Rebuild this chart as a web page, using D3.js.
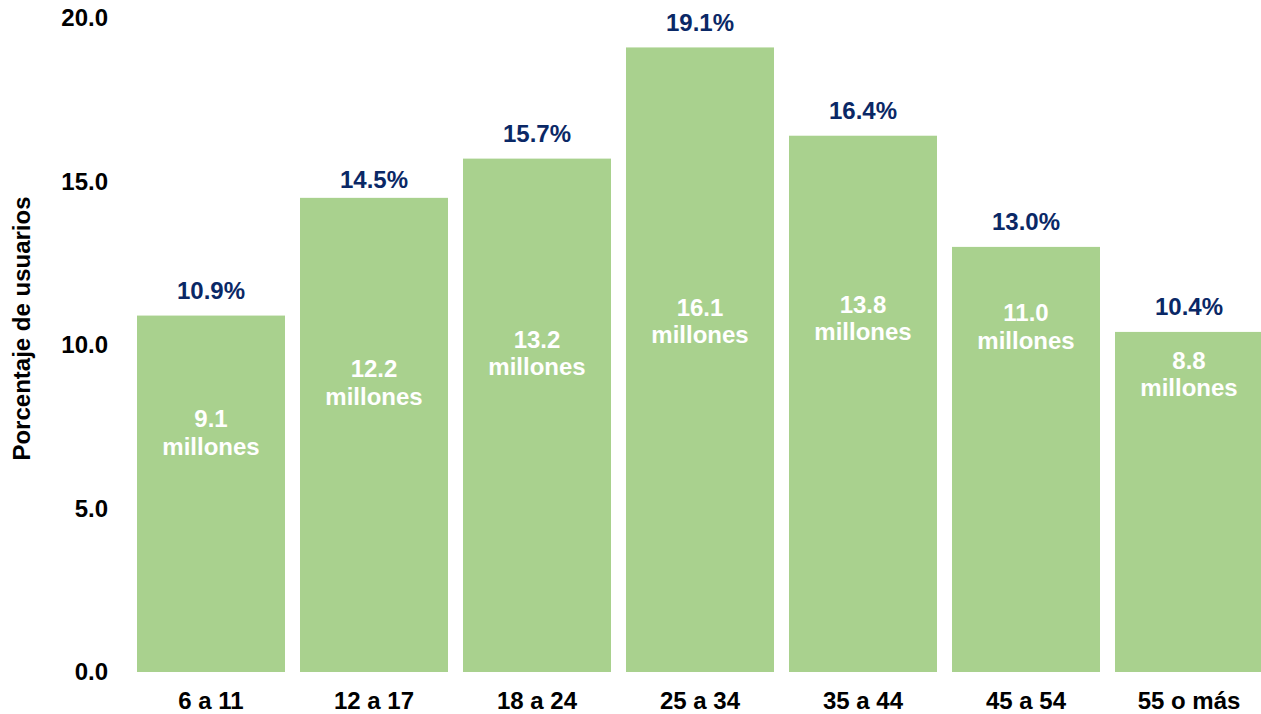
<!DOCTYPE html>
<html>
<head>
<meta charset="utf-8">
<script src="https://cdn.jsdelivr.net/npm/d3@7"></script>
<style>
  html, body { margin: 0; padding: 0; background: #fff; }
  svg { display: block; }
  text { font-family: "Liberation Sans", Arial, sans-serif; font-weight: bold; }
</style>
</head>
<body>
<svg id="chart" width="1261" height="714"></svg>
<script>
// Data
const categories = ["6 a 11", "12 a 17", "18 a 24", "25 a 34", "35 a 44", "45 a 54", "55 o más"];
const percentUsers = [10.9, 14.5, 15.7, 19.1, 16.4, 13.0, 10.4];
const millionsUsers = [9.1, 12.2, 13.2, 16.1, 13.8, 11.0, 8.8];
const yTicks = [0, 5, 10, 15, 20];
// Label anchors (y-axis units)
const pctLabelAt = [11.42, 14.79, 16.21, 19.61, 16.91, 13.51, 10.91];
const millionLabelAt = [7.49, 9.02, 9.91, 10.89, 10.98, 10.72, 9.27];

const svg = d3.select("#chart");
const x = d3.scaleBand().domain(categories).range([129.5, 1270.5]).paddingInner(0.092).paddingOuter(0.046);
const y = d3.scaleLinear().domain([0, 20]).range([672, 18]);

const green = "#A9D18E";
const navy = "#0A2866";
const fs = "24px";
const ff = '"Liberation Sans", Arial, sans-serif';

// bars
svg.append("g").selectAll("rect").data(categories).join("rect")
  .attr("x", d => x(d))
  .attr("y", (d, i) => y(percentUsers[i]))
  .attr("width", x.bandwidth())
  .attr("height", (d, i) => y(0) - y(percentUsers[i]))
  .attr("fill", green);

// y axis
const yAxis = svg.append("g").attr("transform", "translate(108,0)")
  .call(d3.axisLeft(y).tickValues(yTicks).tickFormat(d3.format(".1f")).tickSize(0).tickPadding(0));
yAxis.select(".domain").remove();
yAxis.selectAll("text").attr("fill", "#000").style("font-size", fs)
  .style("font-family", ff).style("font-weight", "bold");

// x axis
const xAxis = svg.append("g").attr("transform", "translate(0,672)")
  .call(d3.axisBottom(x).tickSize(0).tickPadding(0));
xAxis.select(".domain").remove();
xAxis.selectAll("text").attr("fill", "#000").attr("dy", null).attr("y", 37).style("font-size", fs)
  .style("font-family", ff).style("font-weight", "bold");

// y title
svg.append("text")
  .attr("transform", "translate(30,328.5) rotate(-90)")
  .attr("text-anchor", "middle")
  .style("font-size", "24px")
  .attr("fill", "#000")
  .text("Porcentaje de usuarios");

// percent labels
svg.append("g").selectAll("text").data(categories).join("text")
  .attr("x", d => x(d) + x.bandwidth() / 2)
  .attr("y", (d, i) => y(pctLabelAt[i]))
  .attr("text-anchor", "middle")
  .attr("fill", navy)
  .style("font-size", fs)
  .text((d, i) => percentUsers[i].toFixed(1) + "%");

// million labels
const ml = svg.append("g").selectAll("text").data(categories).join("text")
  .attr("x", d => x(d) + x.bandwidth() / 2)
  .attr("y", (d, i) => y(millionLabelAt[i]))
  .attr("text-anchor", "middle")
  .attr("fill", "#fff")
  .style("font-size", fs);
ml.append("tspan").text((d, i) => millionsUsers[i].toFixed(1));
ml.append("tspan").attr("x", d => x(d) + x.bandwidth() / 2).attr("dy", 27.5).text("millones");
</script>
</body>
</html>
